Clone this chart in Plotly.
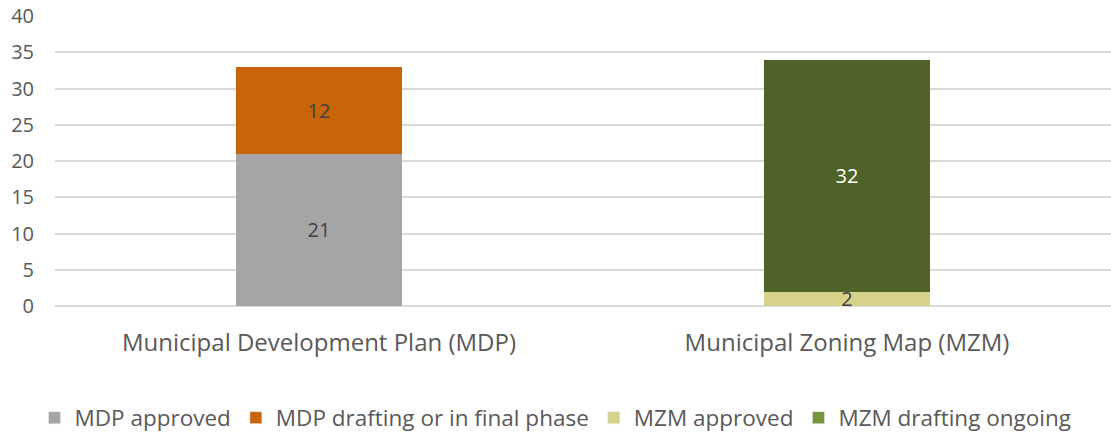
import plotly.graph_objects as go

categories = ['Municipal Development Plan (MDP)', 'Municipal Zoning Map (MZM)']

mdp_approved = [21, None]
mdp_drafting = [12, None]
mzm_approved = [None, 2]
mzm_drafting = [None, 32]

series = [
    ('MDP approved', mdp_approved, '#A5A5A5', '#A5A5A5', '#404040'),
    ('MDP drafting or in final phase', mdp_drafting, '#C8650B', '#C8650B', '#404040'),
    ('MZM approved', mzm_approved, '#D7D28A', '#D7D28A', '#404040'),
    ('MZM drafting ongoing', mzm_drafting, '#4F6228', '#77933C', '#FFFFFF'),
]

fig = go.Figure()

for name, vals, color, legend_color, text_color in series:
    fig.add_trace(go.Bar(
        x=categories, y=vals, name=name, showlegend=False,
        marker=dict(color=color, line=dict(width=0)),
        text=[str(v) if v is not None else '' for v in vals],
        textposition='inside', insidetextanchor='middle', constraintext='none',
        textangle=0,
        textfont=dict(color=text_color, size=20, family='Open Sans'),
        hoverinfo='skip',
    ))

# legend swatches (legend colour differs from bar for the last series)
for name, vals, color, legend_color, text_color in series:
    fig.add_trace(go.Bar(
        x=[categories[0]], y=[None], name=name,
        marker=dict(color=legend_color), showlegend=True,
    ))

fig.update_layout(
    barmode='stack',
    bargap=0.685,
    width=1111, height=437,
    margin=dict(l=55, r=0, t=16, b=131, autoexpand=False),
    paper_bgcolor='white', plot_bgcolor='white',
    font=dict(family='Open Sans', color='#595959', size=20),
    legend=dict(orientation='h', x=0.5, xanchor='center', xref='container',
                y=1 - 418 / 437, yanchor='middle', yref='container',
                font=dict(size=22.5, color='#595959'), traceorder='normal',
                itemclick=False),
)
fig.update_xaxes(showgrid=False, showline=False, ticks='', ticklabelstandoff=20,
                 tickfont=dict(size=24, color='#595959'))
fig.update_yaxes(range=[0, 40], dtick=5, showgrid=True, gridcolor='#D9D9D9', gridwidth=1.5,
                 zeroline=True, zerolinecolor='#D9D9D9', zerolinewidth=1.5,
                 ticklabelstandoff=20, tickfont=dict(size=20, color='#595959'))

fig.write_html("out.html", config={'displayModeBar': False},
               post_script="document.body.style.margin='0';")
